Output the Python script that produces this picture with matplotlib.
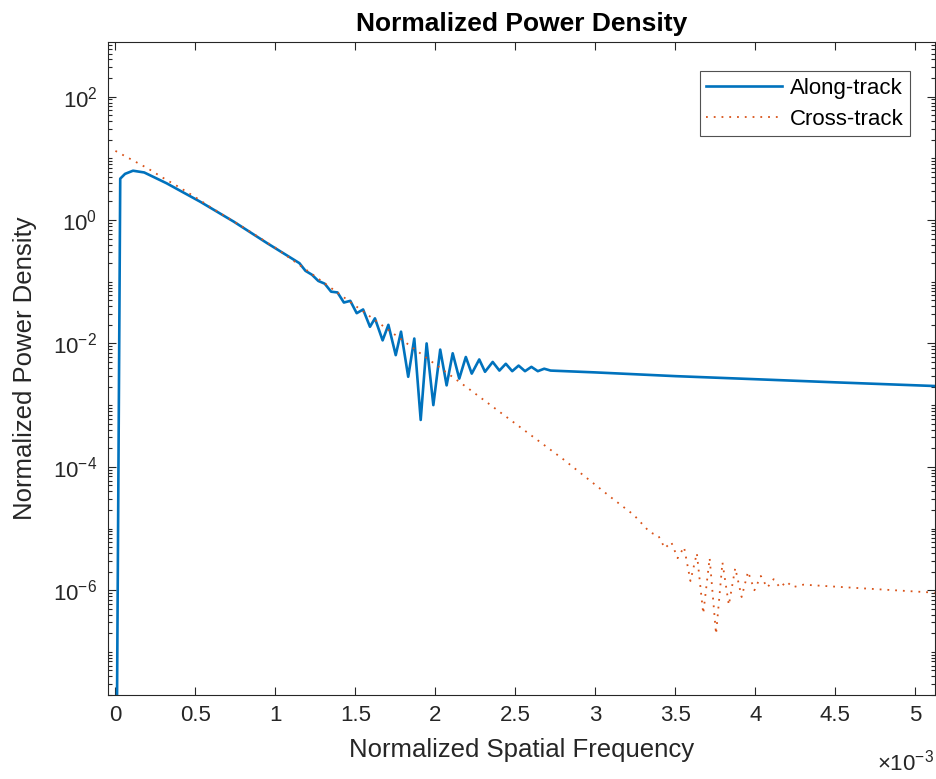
import numpy as np
import matplotlib
matplotlib.use("Agg")
import matplotlib.pyplot as plt
from matplotlib.ticker import FixedLocator, FixedFormatter, LogLocator, FuncFormatter, NullFormatter

plt.rcParams['font.family'] = ['Liberation Sans', 'DejaVu Sans']
plt.rcParams['mathtext.fontset'] = 'custom'
plt.rcParams['mathtext.rm'] = 'Liberation Sans'
plt.rcParams['mathtext.it'] = 'Liberation Sans'
plt.rcParams['mathtext.default'] = 'regular'

# along-track spectrum (x in units of 1e-3)
along_x = np.array([0.0, 0.03, 0.06, 0.11, 0.18, 0.32, 0.53, 0.74, 0.95, 1.15,
                    1.188, 1.228, 1.268, 1.308, 1.348, 1.388, 1.428, 1.468, 1.508, 1.548,
                    1.591, 1.622, 1.67, 1.706, 1.752, 1.785, 1.83, 1.868, 1.908, 1.945,
                    1.987, 2.03, 2.07, 2.108, 2.149, 2.19, 2.227, 2.274, 2.31, 2.358,
                    2.40, 2.44, 2.48, 2.52, 2.56, 2.60, 2.64, 2.68, 2.72,
                    3.0, 3.5, 4.0, 4.5, 5.12]) * 1e-3
along_y = np.array([1e-12, 4.68, 5.6, 6.3, 5.9, 3.94, 1.98, 0.94, 0.419, 0.20,
                    0.150, 0.130, 0.103, 0.0930, 0.0690, 0.0670, 0.0460, 0.0490, 0.0309, 0.0355,
                    0.0186, 0.0255, 0.0112, 0.0200, 0.00646, 0.0155, 0.00288, 0.0120, 0.000575, 0.0100,
                    0.00100, 0.00794, 0.00209, 0.00692, 0.00269, 0.00603, 0.00324, 0.00550, 0.00347, 0.00501,
                    0.00363, 0.00468, 0.00355, 0.00437, 0.00355, 0.00417, 0.00355, 0.00389, 0.00363,
                    0.00339, 0.00295, 0.00263, 0.00234, 0.00204])

# cross-track spectrum
cross_x = np.array([0.0, 0.1, 0.2, 0.3, 0.4, 0.5, 0.6, 0.8, 1.0, 1.2,
                    1.4, 1.6, 1.8, 2.0, 2.2, 2.5, 2.8, 3.1, 3.24, 3.34,
                    3.394, 3.434, 3.474, 3.514, 3.554, 3.594, 3.634, 3.674, 3.714, 3.754,
                    3.794, 3.834, 3.874, 3.914, 3.954, 3.994, 4.034, 4.074, 4.114, 4.154,
                    4.194, 4.234, 4.30, 4.6, 5.12]) * 1e-3
cross_y = np.array([13.2, 9.55, 6.92, 4.79, 3.39, 2.34, 1.58, 0.759, 0.355, 0.151,
                    0.0631, 0.0263, 0.0110, 0.00457, 0.00191, 5.01e-4, 1.32e-4, 3.16e-5, 1.66e-5, 8.71e-6,
                    7.59e-6, 4.79e-6, 6.03e-6, 3.31e-6, 5.01e-6, 1.41e-6, 3.98e-6, 4.17e-7, 3.31e-6, 1.95e-7,
                    2.82e-6, 5.75e-7, 2.29e-6, 7.76e-7, 2.00e-6, 1.00e-6, 1.70e-6, 1.10e-6, 1.51e-6, 1.10e-6,
                    1.38e-6, 1.12e-6, 1.23e-6, 1.10e-6, 9.12e-7])

xticks = np.arange(0, 5.01, 0.5) * 1e-3
yticks = [1e-6, 1e-4, 1e-2, 1e0, 1e2]
ytick_labels = ['10$^{-6}$', '10$^{-4}$', '10$^{-2}$', '10$^{0}$', '10$^{2}$']

dark = '#262626'
fig = plt.figure(figsize=(9.36, 7.79), dpi=100)
ax = fig.add_axes([0.1152, 0.1078, 0.8833, 0.8379])

ax.semilogy(along_x, along_y, color='#0072BD', lw=1.9, label='Along-track')
ax.semilogy(cross_x, cross_y, color='#D95319', lw=1.3, linestyle=(0, (1, 3.3)),
            label='Cross-track')

ax.set_xlim(-0.0475e-3, 5.12e-3)
ax.set_ylim(2e-8, 7.6e2)
ax.xaxis.set_major_locator(FixedLocator(xticks))
ax.xaxis.set_major_formatter(FuncFormatter(lambda v, p: f"{v * 1e3:g}"))
ax.yaxis.set_major_locator(FixedLocator(yticks))
ax.yaxis.set_major_formatter(FixedFormatter(ytick_labels))
ax.yaxis.set_minor_locator(LogLocator(base=10, subs=np.arange(1, 10), numticks=30))
ax.yaxis.set_minor_formatter(NullFormatter())

ax.tick_params(which='both', direction='in', top=True, right=True, colors=dark,
               labelsize=16, width=0.8)
ax.tick_params(which='major', length=6)
ax.tick_params(which='minor', length=3)
ax.tick_params(axis='x', pad=7)
ax.tick_params(axis='y', pad=7.5)
for sp in ax.spines.values():
    sp.set_color(dark)
    sp.set_linewidth(0.8)

ax.set_xlabel('Normalized Spatial Frequency', fontsize=18.5, color=dark, labelpad=9)
ax.set_ylabel('Normalized Power Density', fontsize=18.5, color=dark, labelpad=12)
ax.set_title('Normalized Power Density', fontsize=19, fontweight='bold', pad=8)
fig.text(0.998, 0.004, '×10$^{-3}$', ha='right', va='bottom', fontsize=16, color=dark)

leg = ax.legend(loc='upper right', bbox_to_anchor=(0.9703, 0.956), borderaxespad=0,
                fontsize=16, frameon=True, fancybox=False, handlelength=3.4,
                handletextpad=0.35, labelspacing=0.45, borderpad=0.3)
leg.get_frame().set_edgecolor(dark)
leg.get_frame().set_linewidth(0.8)

fig.savefig('out.png', dpi=100)
